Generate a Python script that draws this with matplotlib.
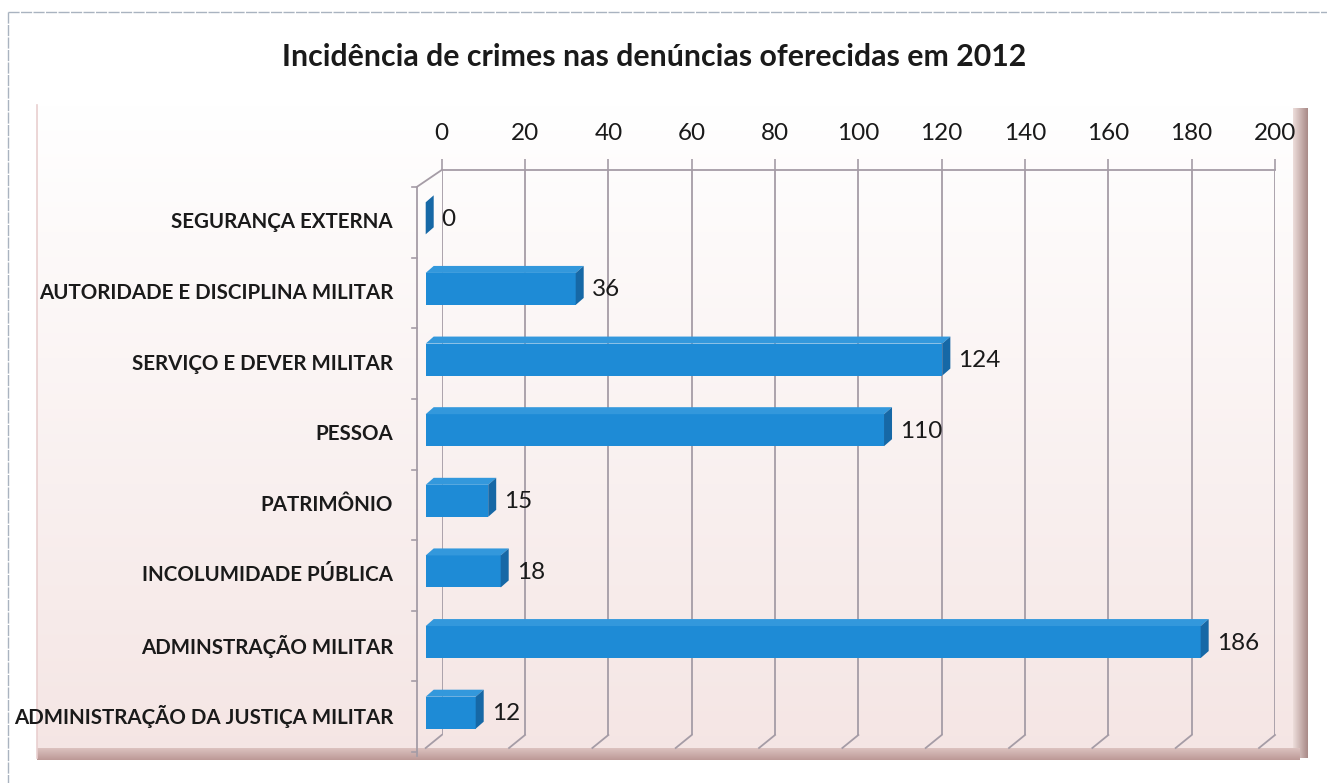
import numpy as np
import matplotlib
matplotlib.use("Agg")
import matplotlib.pyplot as plt
from matplotlib.patches import Polygon, Rectangle

plt.rcParams['font.family'] = ['Lato', 'DejaVu Sans']

title = "Incidência de crimes nas denúncias oferecidas em 2012"
categories = ["SEGURANÇA EXTERNA", "AUTORIDADE E DISCIPLINA MILITAR",
              "SERVIÇO E DEVER MILITAR", "PESSOA", "PATRIMÔNIO",
              "INCOLUMIDADE PÚBLICA", "ADMINSTRAÇÃO MILITAR",
              "ADMINISTRAÇÃO DA JUSTIÇA MILITAR"]
values = [0, 36, 124, 110, 15, 18, 186, 12]
xticks = [0, 20, 40, 60, 80, 100, 120, 140, 160, 180, 200]

W, H = 1327, 783
fig = plt.figure(figsize=(W / 100, H / 100), dpi=100)

# background / panel drawn in pixel coords
bg = fig.add_axes([0, 0, 1, 1])
bg.set_xlim(0, W)
bg.set_ylim(H, 0)
bg.axis('off')

grad = np.linspace(0, 1, 256).reshape(-1, 1)
top_c = np.array([1.0, 1.0, 1.0])
bot_c = np.array([0.96, 0.9, 0.895])
img = top_c + (bot_c - top_c) * grad
bg.imshow(img[:, None, :].repeat(2, axis=1), extent=[37, 1300, 750, 105],
          aspect='auto', zorder=0)
# right shadow
sh = np.linspace(0, 1, 64).reshape(1, -1)
c0, c1 = np.array([0.93, 0.87, 0.86]), np.array([0.66, 0.54, 0.53])
simg = c0 + (c1 - c0) * sh[..., None]
bg.imshow(simg.repeat(2, axis=0), extent=[1293, 1308, 758, 108], aspect='auto', zorder=1)
# bottom shadow
sv = np.linspace(0, 1, 64).reshape(-1, 1)
b0, b1 = np.array([0.86, 0.76, 0.75]), np.array([0.74, 0.6, 0.59])
bimg = b0 + (b1 - b0) * sv[..., None]
bg.imshow(bimg.repeat(2, axis=1), extent=[37, 1300, 760, 748], aspect='auto', zorder=1)
bg.plot([37, 37], [105, 758], color='#e9cfcf', lw=1.2, zorder=2)
# outer frame
bg.plot([8, W], [12, 12], color='#a9b3c0', lw=1.0, ls=(0, (8, 1)), zorder=2)
bg.plot([8, 8], [12, H], color='#a9b3c0', lw=1.0, ls=(0, (8, 1)), zorder=2)
bg.set_xlim(0, W)
bg.set_ylim(H, 0)

fig.text(654 / W, 1 - 57 / H, title, ha='center', va='center',
         fontsize=21.8, fontweight='bold', color='#1a1a1a')

# main axes = back wall of the 3D chart
x0, x1, y0, y1 = 441.7, 1275.0, 170.0, 735.0
ax = fig.add_axes([x0 / W, 1 - y1 / H, (x1 - x0) / W, (y1 - y0) / H])
ax.set_xlim(0, 200)
ax.set_ylim(7.5, -0.5)
ax.patch.set_alpha(0)
for s in ax.spines.values():
    s.set_visible(False)

px = 200 / (x1 - x0)          # data units per pixel in x
py = 8.0 / (y1 - y0)          # category units per pixel in y (down)

gc = '#a59ca6'
ax.xaxis.tick_top()
ax.set_xticks(xticks)
ax.set_xticklabels([str(t) for t in xticks])
ax.tick_params(axis='x', length=8, width=1.2, color=gc, pad=11,
               labelsize=17.5, labelcolor='#1a1a1a')
ax.set_yticks([])

for t in xticks:
    ax.plot([t, t], [-0.5, 7.5], color=gc, lw=1.3, zorder=1)
    ax.plot([t, t - 16 * px], [7.5, 7.5 + 13 * py], color=gc, lw=1.3,
            zorder=1, clip_on=False)
ax.plot([0, 200], [-0.5, -0.5], color=gc, lw=1.3, zorder=1, clip_on=False)
# left wall
fx = -25 * px
ax.plot([fx, 0], [-0.5 + 17 * py, -0.5], color=gc, lw=1.3, clip_on=False)
ax.plot([fx, fx], [-0.5 + 17 * py, 7.5 + 21 * py], color=gc, lw=1.3, clip_on=False)
for k in range(9):
    yk = -0.5 + k + 17 * py
    ax.plot([fx - 5 * px, fx], [yk, yk], color=gc, lw=1.2, clip_on=False)

# 3D bars
fdx, fdy = -16 * px, 13 * py
ddx, ddy = 8 * px, -7 * py
hh = 32 * py / 2
front_c, top_cl, side_c = '#1e8bd6', '#3398dc', '#1668a6'
for i, v in enumerate(values):
    yc = i + fdy
    xl, xr = fdx, fdx + v
    ax.add_patch(Rectangle((xl, yc - hh), v, 2 * hh, facecolor=front_c,
                           edgecolor='none', zorder=3, clip_on=False))
    ax.add_patch(Polygon([(xl, yc - hh), (xl + ddx, yc - hh + ddy),
                          (xr + ddx, yc - hh + ddy), (xr, yc - hh)],
                         facecolor=top_cl, edgecolor='none', zorder=3, clip_on=False))
    ax.add_patch(Polygon([(xr, yc - hh), (xr + ddx, yc - hh + ddy),
                          (xr + ddx, yc + hh + ddy), (xr, yc + hh)],
                         facecolor=side_c, edgecolor='none', zorder=3, clip_on=False))
    ax.text(v, yc + 1 * py, str(v), ha='left', va='center', fontsize=17.5,
            color='#1a1a1a', zorder=4)
    ax.text(-(x0 - 393) * px, yc + 4 * py, categories[i], ha='right', va='center',
            fontsize=14.8, fontweight='bold', color='#1a1a1a', clip_on=False)

fig.savefig('out.png', dpi=100)
